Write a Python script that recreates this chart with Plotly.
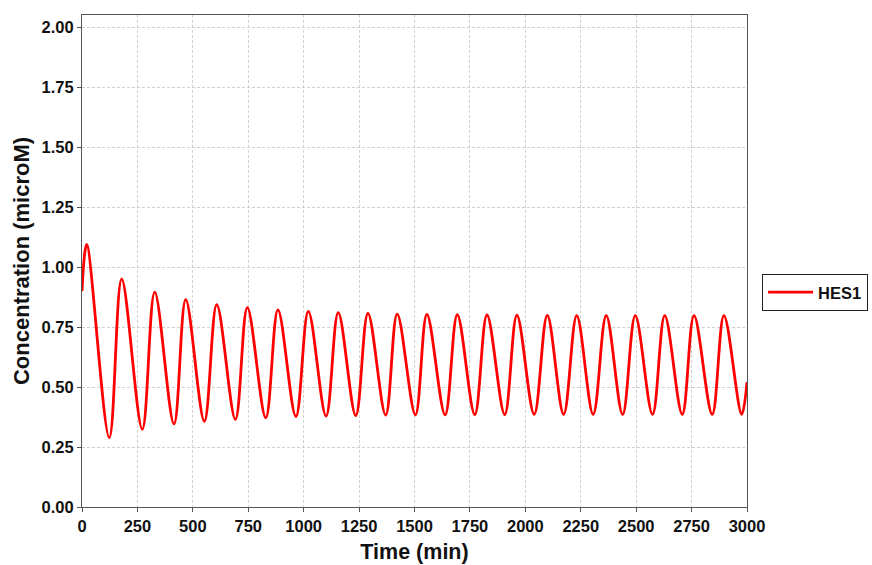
import plotly.graph_objects as go

# Extrema of the HES1 trace (time in min, concentration in microM)
start_t = [0]
start_v = [0.90]
peak_t = [21, 179, 328, 468, 608, 746, 884, 1021, 1156, 1290, 1422, 1556, 1693, 1827,
          1962, 2099, 2232, 2365, 2496, 2629, 2761, 2896]
peak_v = [1.094, 0.950, 0.895, 0.864, 0.843, 0.831, 0.821, 0.815, 0.810, 0.807, 0.804,
          0.802, 0.801, 0.800, 0.799, 0.798, 0.797, 0.797, 0.797, 0.797, 0.797, 0.797]
trough_t = [123, 272, 415, 552, 692, 829, 965, 1101, 1235, 1370, 1504, 1638, 1772, 1907,
            2040, 2173, 2306, 2439, 2574, 2708, 2843, 2976]
trough_v = [0.289, 0.324, 0.346, 0.357, 0.365, 0.372, 0.377, 0.379, 0.381, 0.383, 0.384,
            0.384, 0.385, 0.385, 0.386, 0.386, 0.386, 0.386, 0.386, 0.386, 0.386, 0.386]
end_t = [3000]
end_v = [0.52]

x_ticks = [0, 250, 500, 750, 1000, 1250, 1500, 1750, 2000, 2250, 2500, 2750, 3000]
y_ticks = [0.0, 0.25, 0.5, 0.75, 1.0, 1.25, 1.5, 1.75, 2.0]

pts = sorted(zip(start_t + peak_t + trough_t + end_t, start_v + peak_v + trough_v + end_v))
t = [p[0] for p in pts]
v = [p[1] for p in pts]

fig = go.Figure()
fig.add_trace(go.Scatter(x=t, y=v, mode="lines", name="HES1",
                         line=dict(color="#ff0000", width=2.8, shape="spline", smoothing=1.0)))

font_family = "Liberation Sans, Arial, sans-serif"
fig.update_layout(
    width=872, height=565,
    margin=dict(l=82, r=125, t=15, b=58, autoexpand=False),
    paper_bgcolor="white", plot_bgcolor="white",
    font=dict(family=font_family, color="#111"),
    showlegend=True,
    legend=dict(x=1.0226, y=0.436, xanchor="left", yanchor="middle",
                bordercolor="#222", borderwidth=1,
                font=dict(size=16.5, family=font_family, color="#111", weight="bold"),
                itemwidth=45, tracegroupgap=0),
    xaxis=dict(range=[0, 3000], tickvals=x_ticks, ticktext=[str(x) for x in x_ticks],
               showgrid=True, gridcolor="#d0d0d0", griddash="3px,2px", gridwidth=1,
               showline=True, linecolor="#555", linewidth=1, mirror=True,
               ticks="outside", ticklen=4, tickcolor="#555", automargin=False,
               tickfont=dict(size=16.5, weight="bold", family=font_family, color="#111"),
               title=dict(text="Time (min)", font=dict(size=21.5, weight="bold", family=font_family, color="#111"),
                          standoff=10),
               zeroline=False),
    yaxis=dict(range=[0, 2.05], tickvals=y_ticks, ticktext=["%.2f" % y for y in y_ticks],
               showgrid=True, gridcolor="#d0d0d0", griddash="3px,2px", gridwidth=1,
               showline=True, linecolor="#555", linewidth=1, mirror=True,
               ticks="outside", ticklen=4, tickcolor="#555", automargin=False,
               tickfont=dict(size=16.5, weight="bold", family=font_family, color="#111"),
               title=dict(text="Concentration (microM)", font=dict(size=22, weight="bold", family=font_family, color="#111"),
                          standoff=5),
               zeroline=False),
)

fig.write_html("out.html")
